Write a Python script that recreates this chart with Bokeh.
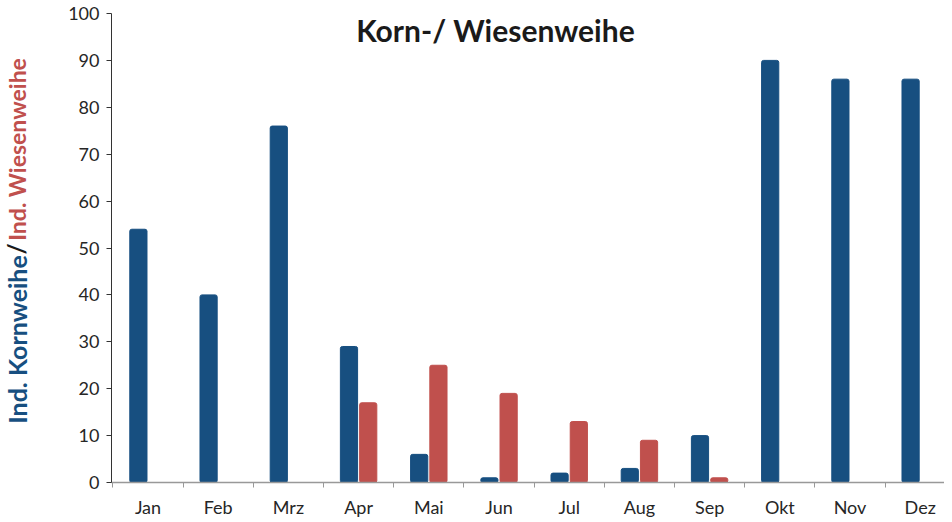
from math import pi
from bokeh.plotting import figure
from bokeh.layouts import row
from bokeh.models import ColumnDataSource, Range1d, FixedTicker, Label
from bokeh.embed import file_html
from bokeh.resources import INLINE

months = ["Jan", "Feb", "Mrz", "Apr", "Mai", "Jun", "Jul", "Aug", "Sep", "Okt", "Nov", "Dez"]
kornweihe = [54, 40, 76, 29, 6, 1, 2, 3, 10, 90, 86, 86]
wiesenweihe = [0, 0, 0, 17, 25, 19, 13, 9, 1, 0, 0, 0]
y_ticks = [0, 10, 20, 30, 40, 50, 60, 70, 80, 90, 100]

BLUE = "#174F80"
RED = "#C0504D"
FONT = "Lato"

W, H = 944, 520
LW = 34  # width of the strip holding the y-axis title

centers = [i + 0.5 for i in range(len(months))]
src = ColumnDataSource(dict(
    x_k=[c - 0.137 for c in centers],
    x_w=[c + 0.137 for c in centers],
    k=kornweihe,
    w=wiesenweihe,
))

p = figure(width=W - LW, height=H, output_backend="svg", toolbar_location=None,
           x_range=Range1d(-0.02, 11.846), y_range=Range1d(0, 100),
           min_border_left=111 - LW, min_border_right=0, min_border_top=13, min_border_bottom=38)
p.outline_line_color = None
p.xgrid.visible = False
p.ygrid.visible = False

p.vbar(x="x_k", top="k", width=0.245, source=src, color=BLUE, border_radius=2)
p.vbar(x="x_w", top="w", width=0.245, source=src, color=RED, border_radius=2)

# x axis
xa = p.xaxis[0]
xa.ticker = FixedTicker(ticks=centers, minor_ticks=list(range(len(months) + 1)))
xa.major_label_overrides = {c: m for c, m in zip(centers, months)}
xa.major_tick_line_color = None
xa.minor_tick_line_color = "#999999"
xa.minor_tick_in = 0
xa.minor_tick_out = 5
xa.axis_line_color = "#999999"
xa.axis_line_width = 1.5
xa.major_label_text_font = FONT
xa.major_label_text_font_size = "18px"
xa.major_label_text_color = "#262626"
xa.major_label_standoff = 7

# y axis
ya = p.yaxis[0]
ya.ticker = FixedTicker(ticks=y_ticks, minor_ticks=[])
ya.major_tick_in = 0
ya.major_tick_out = 5
ya.major_tick_line_color = "#333333"
ya.axis_line_color = "#333333"
ya.major_label_text_font = FONT
ya.major_label_text_font_size = "18px"
ya.major_label_text_color = "#262626"
ya.major_label_standoff = 7

# title (data units)
p.add_layout(Label(x=5.45, y=96.4, text="Korn-/ Wiesenweihe", text_font=FONT,
                   text_font_style="bold", text_font_size="30px", text_color="#1a1a1a",
                   text_align="center", text_baseline="alphabetic"))

# strip with the y-axis title in three colours
lab = figure(width=LW, height=H, output_backend="svg", toolbar_location=None,
             x_axis_location=None, y_axis_location=None,
             x_range=Range1d(0, LW), y_range=Range1d(0, H),
             min_border_left=0, min_border_right=0, min_border_top=0, min_border_bottom=0)
lab.grid.visible = False
lab.outline_line_color = None
for txt, ypos, col, align, fs in [("Ind. Kornweihe", H - 268, BLUE, "right", "25px"),
                                  ("/", H - 261, "#1a1a1a", "center", "24px"),
                                  ("Ind. Wiesenweihe", H - 252, RED, "left", "23px")]:
    lab.add_layout(Label(x=16, y=ypos, text=txt, angle=pi / 2, text_font=FONT,
                         text_font_style="bold", text_font_size=fs, text_color=col,
                         text_align=align, text_baseline="middle"))

layout = row(lab, p, spacing=0)
open("out.html", "w").write(file_html(layout, INLINE))
